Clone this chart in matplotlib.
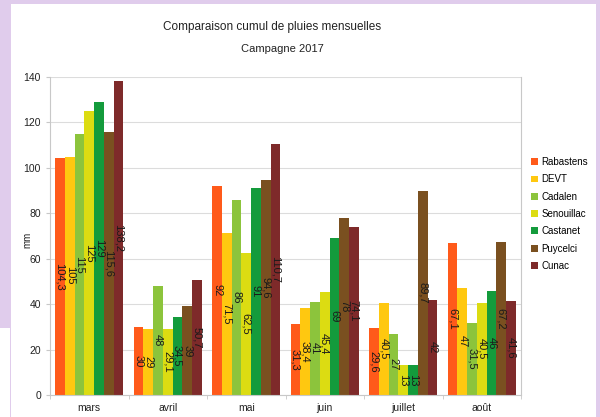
import numpy as np
import matplotlib
matplotlib.use("Agg")
import matplotlib.pyplot as plt
from matplotlib.patches import Rectangle

plt.rcParams["font.family"] = ["Liberation Sans", "DejaVu Sans"]

months = ["mars", "avril", "mai", "juin", "juillet", "août"]
stations = ["Rabastens", "DEVT", "Cadalen", "Senouillac", "Castanet", "Puycelci", "Cunac"]

rabastens = [104.3, 30, 92, 31.3, 29.6, 67.1]
devt = [105, 29, 71.5, 38.4, 40.5, 47]
cadalen = [115, 48, 86, 41, 27, 31.5]
senouillac = [125, 29.1, 62.5, 45.4, 13, 40.5]
castanet = [129, 34.5, 91, 69, 13, 46]
puycelci = [115.6, 39, 94.6, 78, 89.7, 67.2]
cunac = [138.2, 50.7, 110.7, 74.1, 42, 41.6]

series = [rabastens, devt, cadalen, senouillac, castanet, puycelci, cunac]
colors = ["#ff5a1a", "#ffc810", "#8cc43c", "#dcdc12", "#149b3c", "#7a5020", "#7e2a2a"]

lavender = "#e0ccec"

fig = plt.figure(figsize=(6, 4.17), dpi=100, facecolor=lavender)

# white panel of the screenshot
fig.patches.append(Rectangle((11 / 600, 0), 585 / 600, 413 / 417,
                             transform=fig.transFigure, facecolor="white",
                             edgecolor="none", zorder=-2))
fig.patches.append(Rectangle((0, 0), 11 / 600, 89 / 417,
                             transform=fig.transFigure, facecolor="white",
                             edgecolor="none", zorder=-2))
fig.patches.append(Rectangle((9.5 / 600, 0), 1.2 / 600, 89 / 417,
                             transform=fig.transFigure, facecolor=lavender,
                             edgecolor="none", zorder=-1))

ax = fig.add_axes([50 / 600, 22 / 417, 471 / 600, 318 / 417], zorder=2)
ax.set_facecolor("white")

x = np.arange(len(months))
n = len(series)
width = 0.124

for i, (vals, col, name) in enumerate(zip(series, colors, stations)):
    pos = x + (i - (n - 1) / 2) * width
    bars = ax.bar(pos, vals, width, color=col, label=name, zorder=2)
    for b, v in zip(bars, vals):
        ax.text(b.get_x() + b.get_width() / 2, v / 2,
                ("%g" % v).replace(".", ","),
                rotation=270, ha="center", va="center",
                fontsize=8, color="#1a1a1a", zorder=3)

ax.set_xlim(-0.5, len(months) - 0.5)
ax.set_ylim(0, 140)
ax.set_yticks(np.arange(0, 141, 20))
ax.set_xticks(x)
ax.set_xticklabels(months)
ax.set_xticks(np.arange(-0.5, len(months)), minor=True)
ax.tick_params(axis="x", which="major", length=0, labelsize=7.5, pad=6, colors="#222222")
ax.tick_params(axis="x", which="minor", length=3, color="#c8c8c8")
ax.tick_params(axis="y", length=3, labelsize=7.5, colors="#222222")
ax.tick_params(axis="y", color="#c8c8c8")
ax.yaxis.grid(True, color="#dcdcdc", linewidth=0.8, zorder=0)
ax.set_axisbelow(True)
for side in ["left", "right", "bottom"]:
    ax.spines[side].set_color("#c8c8c8")
    ax.spines[side].set_linewidth(0.8)
ax.spines["top"].set_visible(False)

fig.text(27 / 600, 1 - 240 / 417, "mm", rotation=90,
         ha="center", va="center", fontsize=7, color="#222222")

fig.text(272 / 600, 1 - 27 / 417, "Comparaison cumul de pluies mensuelles",
         ha="center", va="center", fontsize=8.5, color="#222222")
fig.text(282 / 600, 1 - 49 / 417, "Campagne 2017",
         ha="center", va="center", fontsize=8, color="#222222")

ax.legend(loc="center left", bbox_to_anchor=(526 / 600, 1 - 214 / 417),
          bbox_transform=fig.transFigure, frameon=False, fontsize=7,
          handlelength=0.7, handleheight=0.7, handletextpad=0.4,
          labelspacing=0.75, borderpad=0)

fig.savefig("out.png", dpi=100, facecolor=lavender)
